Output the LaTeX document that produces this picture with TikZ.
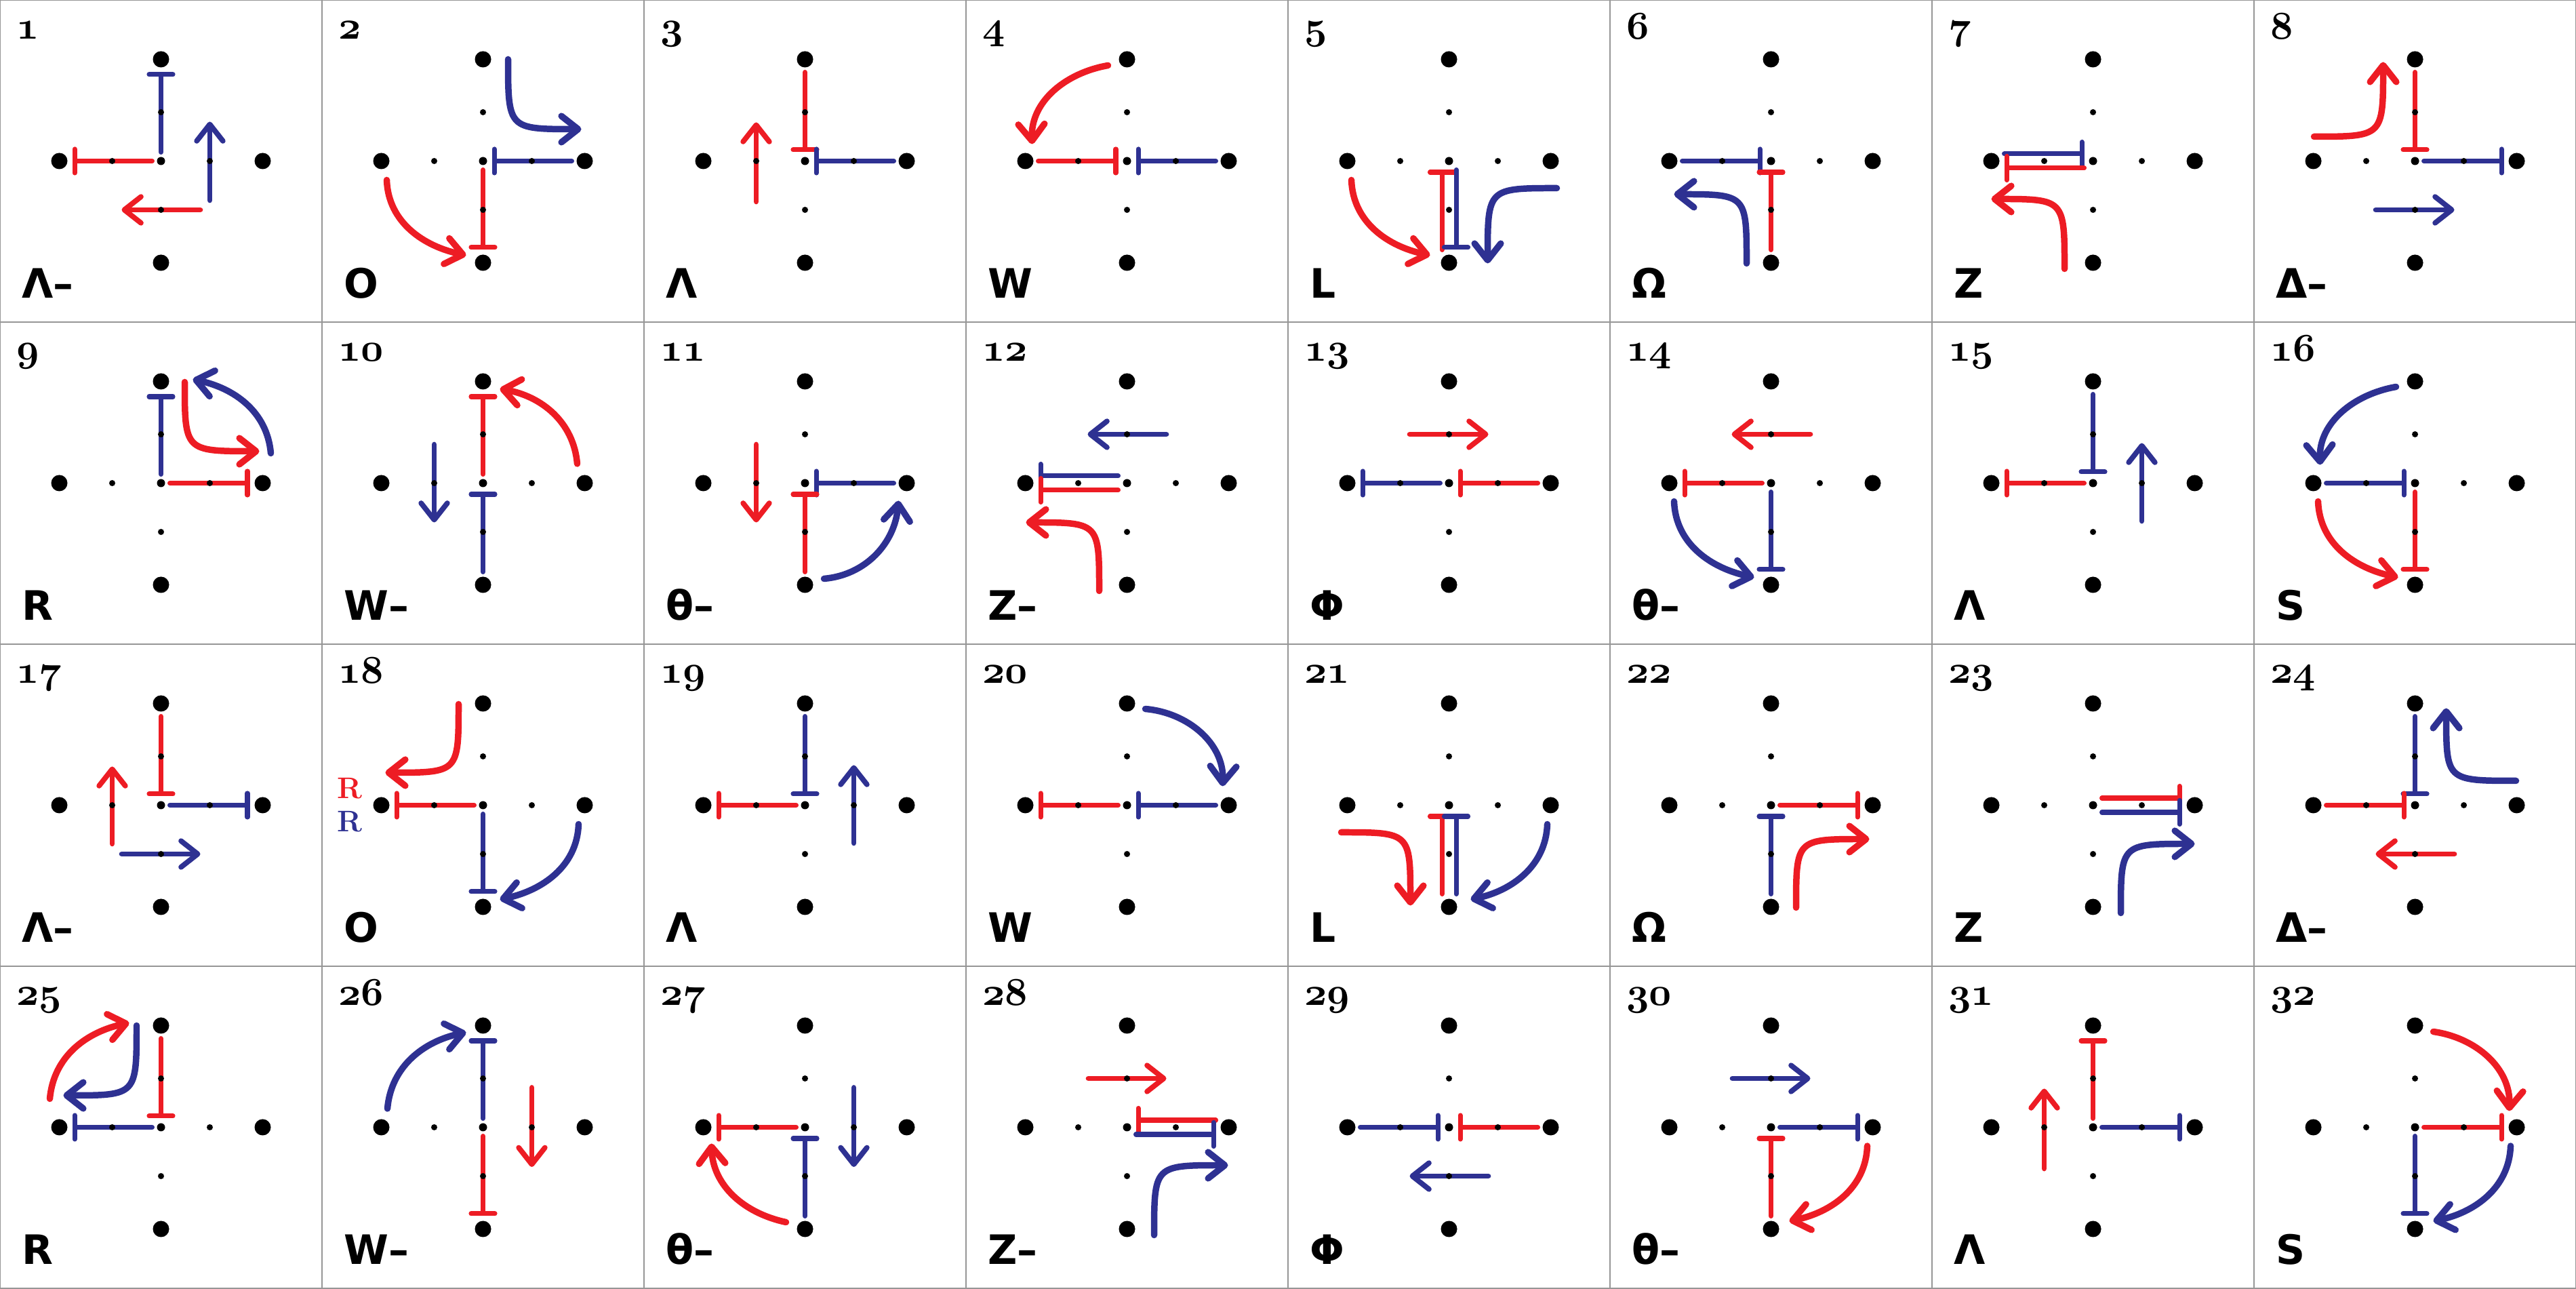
\documentclass[tikz,border=0pt]{standalone}
\usepackage{fontspec}
\usepackage{tikz}
\usetikzlibrary{arrows.meta}
\newfontfamily\motiffont{DejaVu Sans}
\font\cellnumfont=cmmib10 at 16.5pt
\definecolor{motifred}{RGB}{237,28,36}
\definecolor{motifblue}{RGB}{46,49,146}
\definecolor{gridgrey}{RGB}{150,150,150}

\begin{document}
\begin{tikzpicture}[
    cellgrid/.style={draw=gridgrey, line width=0.7pt},
    redbar/.style={draw=motifred, line width=2pt, line cap=round, -{Bar[width=10pt,round]}},
    bluebar/.style={redbar, draw=motifblue},
    redarrow/.style={draw=motifred, line width=2.2pt, line cap=round, -{Straight Barb[length=7pt,width=11pt,round]}},
    bluearrow/.style={redarrow, draw=motifblue},
    redcurve/.style={redarrow, line width=2.7pt},
    bluecurve/.style={bluearrow, line width=2.7pt},
    numlabel/.style={anchor=base west, inner sep=0pt, font=\cellnumfont},
    motiflabel/.style={anchor=base west, inner sep=0pt, font=\motiffont\bfseries\fontsize{17}{20}\selectfont},
    rlabel/.style={anchor=base, inner sep=0pt, font=\fontsize{12.5}{14}\selectfont\bfseries}
]
    \useasboundingbox (0,0) rectangle (38,19);
    \draw[cellgrid] (0,0) grid[step=4.75] (38,19);

    \begin{scope}[shift={(2.375,16.625)}]
        \draw[redbar] (-0.13,0) -- (-1.31,0);
        \draw[bluebar] (0,0.13) -- (0,1.31);
        \draw[bluearrow] (0.72,-0.58) -- (0.72,0.58);
        \draw[redarrow] (0.58,-0.72) -- (-0.58,-0.72);
    \end{scope}
    \begin{scope}[shift={(7.125,16.625)}]
        \draw[bluebar] (1.31,0) -- (0.13,0);
        \draw[redbar] (0,-0.13) -- (0,-1.31);
        \draw[bluecurve] (0.37,1.50) .. controls (0.37,0.47) and (0.37,0.47) .. (1.45,0.47);
        \draw[redcurve] (-1.42,-0.28) to[out=-88,in=168] (-0.25,-1.39);
    \end{scope}
    \begin{scope}[shift={(11.875,16.625)}]
        \draw[redbar] (0,1.31) -- (0,0.13);
        \draw[bluebar] (1.31,0) -- (0.13,0);
        \draw[redarrow] (-0.72,-0.60) -- (-0.72,0.57);
    \end{scope}
    \begin{scope}[shift={(16.625,16.625)}]
        \draw[redcurve] (-0.28,1.41) to[out=190,in=92] (-1.40,0.25);
        \draw[redbar] (-1.31,0) -- (-0.13,0);
        \draw[bluebar] (1.31,0) -- (0.13,0);
    \end{scope}
    \begin{scope}[shift={(21.375,16.625)}]
        \draw[redbar] (-0.105,-1.31) -- (-0.105,-0.13);
        \draw[bluebar] (0.105,-0.13) -- (0.105,-1.31);
        \draw[redcurve] (-1.44,-0.28) to[out=-88,in=168] (-0.28,-1.39);
        \draw[bluecurve] (1.59,-0.40) .. controls (0.57,-0.40) and (0.57,-0.40) .. (0.57,-1.51);
    \end{scope}
    \begin{scope}[shift={(26.125,16.625)}]
        \draw[bluebar] (-1.31,0) -- (-0.13,0);
        \draw[redbar] (0,-1.31) -- (0,-0.13);
        \draw[bluecurve] (-0.36,-1.51) .. controls (-0.36,-0.49) and (-0.36,-0.49) .. (-1.43,-0.49);
    \end{scope}
    \begin{scope}[shift={(30.875,16.625)}]
        \draw[bluebar] (-1.31,0.105) -- (-0.13,0.105);
        \draw[redbar] (-0.13,-0.105) -- (-1.31,-0.105);
        \draw[redcurve] (-0.42,-1.59) .. controls (-0.42,-0.56) and (-0.42,-0.56) .. (-1.50,-0.56);
    \end{scope}
    \begin{scope}[shift={(35.625,16.625)}]
        \draw[redbar] (0,1.31) -- (0,0.13);
        \draw[bluebar] (0.13,0) -- (1.31,0);
        \draw[redcurve] (-1.49,0.36) .. controls (-0.47,0.36) and (-0.47,0.36) .. (-0.47,1.46);
        \draw[bluearrow] (-0.58,-0.72) -- (0.58,-0.72);
    \end{scope}

    \begin{scope}[shift={(2.375,11.875)}]
        \draw[bluebar] (0,0.13) -- (0,1.31);
        \draw[redbar] (0.13,0) -- (1.31,0);
        \draw[redcurve] (0.35,1.49) .. controls (0.35,0.47) and (0.35,0.47) .. (1.45,0.47);
        \draw[bluecurve] (1.62,0.44) to[out=95,in=-12] (0.47,1.53);
    \end{scope}
    \begin{scope}[shift={(7.125,11.875)}]
        \draw[redbar] (0,0.13) -- (0,1.31);
        \draw[bluebar] (0,-1.31) -- (0,-0.13);
        \draw[redcurve] (1.39,0.285) to[out=95,in=-10] (0.25,1.39);
        \draw[bluearrow] (-0.72,0.57) -- (-0.72,-0.58);
    \end{scope}
    \begin{scope}[shift={(11.875,11.875)}]
        \draw[bluebar] (1.31,0) -- (0.13,0);
        \draw[redbar] (0,-1.31) -- (0,-0.13);
        \draw[redarrow] (-0.72,0.57) -- (-0.72,-0.58);
        \draw[bluecurve] (0.28,-1.41) to[out=5,in=-95] (1.38,-0.26);
    \end{scope}
    \begin{scope}[shift={(16.625,11.875)}]
        \draw[bluearrow] (0.58,0.72) -- (-0.58,0.72);
        \draw[bluebar] (-0.13,0.105) -- (-1.31,0.105);
        \draw[redbar] (-0.13,-0.105) -- (-1.31,-0.105);
        \draw[redcurve] (-0.41,-1.59) .. controls (-0.41,-0.58) and (-0.41,-0.58) .. (-1.49,-0.58);
    \end{scope}
    \begin{scope}[shift={(21.375,11.875)}]
        \draw[redarrow] (-0.58,0.72) -- (0.58,0.72);
        \draw[bluebar] (-0.13,0) -- (-1.31,0);
        \draw[redbar] (1.31,0) -- (0.13,0);
    \end{scope}
    \begin{scope}[shift={(26.125,11.875)}]
        \draw[redarrow] (0.58,0.72) -- (-0.58,0.72);
        \draw[redbar] (-0.13,0) -- (-1.31,0);
        \draw[bluebar] (0,-0.13) -- (0,-1.31);
        \draw[bluecurve] (-1.43,-0.27) to[out=-88,in=168] (-0.25,-1.39);
    \end{scope}
    \begin{scope}[shift={(30.875,11.875)}]
        \draw[bluebar] (0,1.31) -- (0,0.13);
        \draw[redbar] (-0.13,0) -- (-1.31,0);
        \draw[bluearrow] (0.72,-0.56) -- (0.72,0.59);
    \end{scope}
    \begin{scope}[shift={(35.625,11.875)}]
        \draw[bluebar] (-1.31,0) -- (-0.13,0);
        \draw[redbar] (0,-0.13) -- (0,-1.31);
        \draw[bluecurve] (-0.28,1.42) to[out=190,in=92] (-1.40,0.27);
        \draw[redcurve] (-1.43,-0.27) to[out=-88,in=168] (-0.25,-1.39);
    \end{scope}

    \begin{scope}[shift={(2.375,7.125)}]
        \draw[redbar] (0,1.31) -- (0,0.13);
        \draw[bluebar] (0.13,0) -- (1.31,0);
        \draw[redarrow] (-0.72,-0.57) -- (-0.72,0.57);
        \draw[bluearrow] (-0.58,-0.72) -- (0.58,-0.72);
    \end{scope}
    \begin{scope}[shift={(7.125,7.125)}]
        \draw[redbar] (-0.13,0) -- (-1.31,0);
        \draw[bluebar] (0,-0.13) -- (0,-1.31);
        \draw[redcurve] (-0.36,1.49) .. controls (-0.36,0.48) and (-0.36,0.48) .. (-1.44,0.48);
        \draw[bluecurve] (1.41,-0.28) to[out=-92,in=12] (0.25,-1.39);
        \node[rlabel, text=motifred] (rred) at (-1.97,0.10) {R};
        \node[rlabel, text=motifblue] (rblue) at (-1.97,-0.39) {R};
    \end{scope}
    \begin{scope}[shift={(11.875,7.125)}]
        \draw[bluebar] (0,1.31) -- (0,0.13);
        \draw[redbar] (-0.13,0) -- (-1.31,0);
        \draw[bluearrow] (0.72,-0.56) -- (0.72,0.59);
    \end{scope}
    \begin{scope}[shift={(16.625,7.125)}]
        \draw[redbar] (-0.13,0) -- (-1.31,0);
        \draw[bluebar] (1.31,0) -- (0.13,0);
        \draw[bluecurve] (0.27,1.42) to[out=-5,in=88] (1.41,0.28);
    \end{scope}
    \begin{scope}[shift={(21.375,7.125)}]
        \draw[redbar] (-0.105,-1.31) -- (-0.105,-0.13);
        \draw[bluebar] (0.105,-1.31) -- (0.105,-0.13);
        \draw[redcurve] (-1.59,-0.40) .. controls (-0.57,-0.40) and (-0.57,-0.40) .. (-0.57,-1.48);
        \draw[bluecurve] (1.45,-0.28) to[out=-92,in=12] (0.32,-1.39);
    \end{scope}
    \begin{scope}[shift={(26.125,7.125)}]
        \draw[redbar] (0.13,0) -- (1.31,0);
        \draw[bluebar] (0,-1.31) -- (0,-0.13);
        \draw[redcurve] (0.37,-1.51) .. controls (0.37,-0.50) and (0.37,-0.50) .. (1.45,-0.50);
    \end{scope}
    \begin{scope}[shift={(30.875,7.125)}]
        \draw[redbar] (0.13,0.105) -- (1.31,0.105);
        \draw[bluebar] (0.13,-0.105) -- (1.31,-0.105);
        \draw[bluecurve] (0.41,-1.59) .. controls (0.41,-0.57) and (0.41,-0.57) .. (1.50,-0.57);
    \end{scope}
    \begin{scope}[shift={(35.625,7.125)}]
        \draw[bluebar] (0,1.31) -- (0,0.13);
        \draw[redbar] (-1.31,0) -- (-0.13,0);
        \draw[redarrow] (0.58,-0.72) -- (-0.58,-0.72);
        \draw[bluecurve] (1.49,0.36) .. controls (0.46,0.36) and (0.46,0.36) .. (0.46,1.43);
    \end{scope}

    \begin{scope}[shift={(2.375,2.375)}]
        \draw[bluebar] (-0.13,0) -- (-1.31,0);
        \draw[redbar] (0,1.31) -- (0,0.13);
        \draw[redcurve] (-1.64,0.42) to[out=85,in=192] (-0.47,1.54);
        \draw[bluecurve] (-0.36,1.50) .. controls (-0.36,0.47) and (-0.36,0.47) .. (-1.44,0.47);
    \end{scope}
    \begin{scope}[shift={(7.125,2.375)}]
        \draw[bluebar] (0,0.13) -- (0,1.31);
        \draw[redbar] (0,-0.13) -- (0,-1.31);
        \draw[bluecurve] (-1.41,0.275) to[out=85,in=192] (-0.25,1.40);
        \draw[redarrow] (0.72,0.585) -- (0.72,-0.585);
    \end{scope}
    \begin{scope}[shift={(11.875,2.375)}]
        \draw[redbar] (-0.13,0) -- (-1.31,0);
        \draw[bluebar] (0,-1.31) -- (0,-0.13);
        \draw[bluearrow] (0.72,0.585) -- (0.72,-0.585);
        \draw[redcurve] (-0.28,-1.40) to[out=168,in=-88] (-1.38,-0.24);
    \end{scope}
    \begin{scope}[shift={(16.625,2.375)}]
        \draw[redarrow] (-0.57,0.72) -- (0.58,0.72);
        \draw[redbar] (1.31,0.105) -- (0.13,0.105);
        \draw[bluebar] (0.13,-0.105) -- (1.31,-0.105);
        \draw[bluecurve] (0.40,-1.59) .. controls (0.40,-0.56) and (0.40,-0.56) .. (1.49,-0.56);
    \end{scope}
    \begin{scope}[shift={(21.375,2.375)}]
        \draw[bluebar] (-1.31,0) -- (-0.13,0);
        \draw[redbar] (1.31,0) -- (0.13,0);
        \draw[bluearrow] (0.58,-0.72) -- (-0.58,-0.72);
    \end{scope}
    \begin{scope}[shift={(26.125,2.375)}]
        \draw[bluearrow] (-0.57,0.72) -- (0.58,0.72);
        \draw[bluebar] (0.13,0) -- (1.31,0);
        \draw[redbar] (0,-1.31) -- (0,-0.13);
        \draw[redcurve] (1.42,-0.275) to[out=-92,in=12] (0.27,-1.385);
    \end{scope}
    \begin{scope}[shift={(30.875,2.375)}]
        \draw[redbar] (0,0.13) -- (0,1.31);
        \draw[bluebar] (0.13,0) -- (1.31,0);
        \draw[redarrow] (-0.72,-0.61) -- (-0.72,0.57);
    \end{scope}
    \begin{scope}[shift={(35.625,2.375)}]
        \draw[redbar] (0.13,0) -- (1.31,0);
        \draw[bluebar] (0,-0.13) -- (0,-1.31);
        \draw[redcurve] (0.27,1.41) to[out=-8,in=88] (1.39,0.24);
        \draw[bluecurve] (1.41,-0.275) to[out=-92,in=12] (0.27,-1.385);
    \end{scope}

    \foreach \n/\txt in {1/Λ–,2/O,3/Λ,4/W,5/L,6/Ω,7/Z,8/Δ–,
                         9/R,10/W–,11/θ–,12/Z–,13/Φ,14/θ–,15/Λ,16/S,
                         17/Λ–,18/O,19/Λ,20/W,21/L,22/Ω,23/Z,24/Δ–,
                         25/R,26/W–,27/θ–,28/Z–,29/Φ,30/θ–,31/Λ,32/S} {
        \pgfmathsetmacro{\cx}{4.75*mod(\n-1,8)+2.375}
        \pgfmathsetmacro{\cy}{16.625-4.75*int((\n-1)/8)}
        \begin{scope}[shift={(\cx,\cy)}]
            \foreach \a in {0,90,180,270} {
                \fill (\a:1.5) circle (0.12);
                \fill (\a:0.72) circle (0.045);
            }
            \fill (0,0) circle (0.06);
            \node[numlabel] (num\n) at (-2.14,1.80) {\n};
            \node[motiflabel] (mot\n) at (-2.06,-2.02) {\txt};
        \end{scope}
    }
\end{tikzpicture}
\end{document}
